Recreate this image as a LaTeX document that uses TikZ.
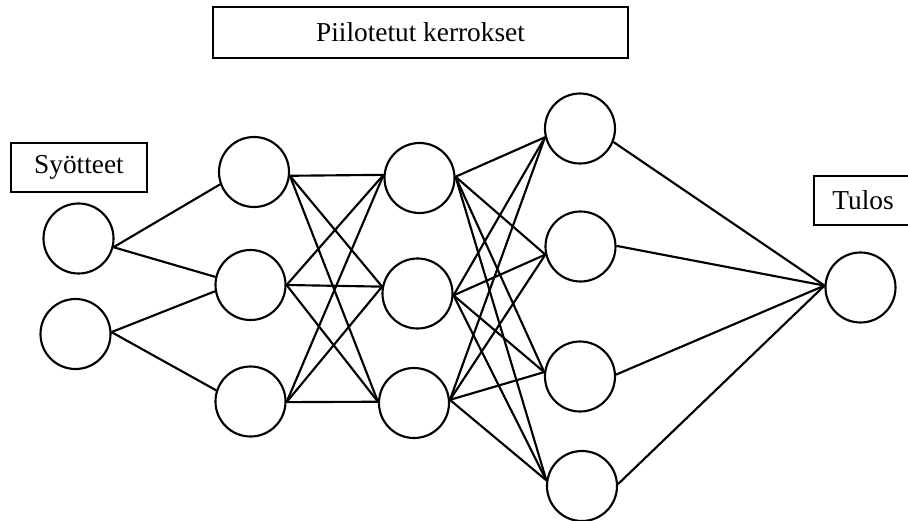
\documentclass[tikz,border=0pt]{standalone}
\usepackage{fontspec}
\setmainfont{Liberation Serif}
\begin{document}
\begin{tikzpicture}[x=0.75pt,y=-0.75pt,
  neuron/.style={circle,draw,line width=1.6pt,minimum size=52.5pt,inner sep=0pt},
  labelbox/.style={draw,line width=1.3pt,inner sep=0pt,minimum height=36.75pt,font=\fontsize{20.5}{24}\selectfont},
  link/.style={line width=1.6pt}]
\useasboundingbox (0,0) rectangle (908,521);
% label boxes
\node[labelbox,minimum width=311.25pt,minimum height=38.25pt] (hidden) at (420.5,32.5) {Piilotetut kerrokset};
\node[labelbox,minimum width=102pt] (inputs) at (79,167.5) {Syötteet};
\node[labelbox,minimum width=73.5pt] (result) at (863,200.5) {Tulos};
% neurons
\node[neuron] (in1) at (78.5,238.5) {};
\node[neuron] (in2) at (75.5,334) {};
\node[neuron] (h1a) at (254,172) {};
\node[neuron] (h1b) at (250.5,285) {};
\node[neuron] (h1c) at (250.5,401.5) {};
\node[neuron] (h2a) at (419.5,178) {};
\node[neuron] (h2b) at (417.5,293.5) {};
\node[neuron] (h2c) at (414,403) {};
\node[neuron] (h3a) at (580,128.5) {};
\node[neuron] (h3b) at (580.5,246.5) {};
\node[neuron] (h3c) at (580,376.5) {};
\node[neuron] (h3d) at (582,486) {};
\node[neuron] (out) at (860.5,287.5) {};
% input -> hidden 1
\draw[link] (in1.-14) -- (h1a.200);
\draw[link] (in1.-14) -- (h1b.167);
\draw[link] (in2.3) -- (h1b.190);
\draw[link] (in2.3) -- (h1c.162);
% hidden 1 -> hidden 2
\foreach \s/\sa in {h1a/-6,h1b/0,h1c/-1}
  \foreach \t/\ta in {h2a/175,h2b/169,h2c/178}
    \draw[link] (\s.\sa) -- (\t.\ta);
% hidden 2 -> hidden 3
\foreach \s/\sa in {h2a/2,h2b/-3,h2c/5}
  \foreach \t/\ta in {h3a/194,h3b/193,h3c/173,h3d/171}
    \draw[link] (\s.\sa) -- (\t.\ta);
% hidden 3 -> output
\foreach \s/\sa in {h3a/-22,h3b/1,h3c/3,h3d/3}
  \draw[link] (\s.\sa) -- (out.177);
\end{tikzpicture}
\end{document}
